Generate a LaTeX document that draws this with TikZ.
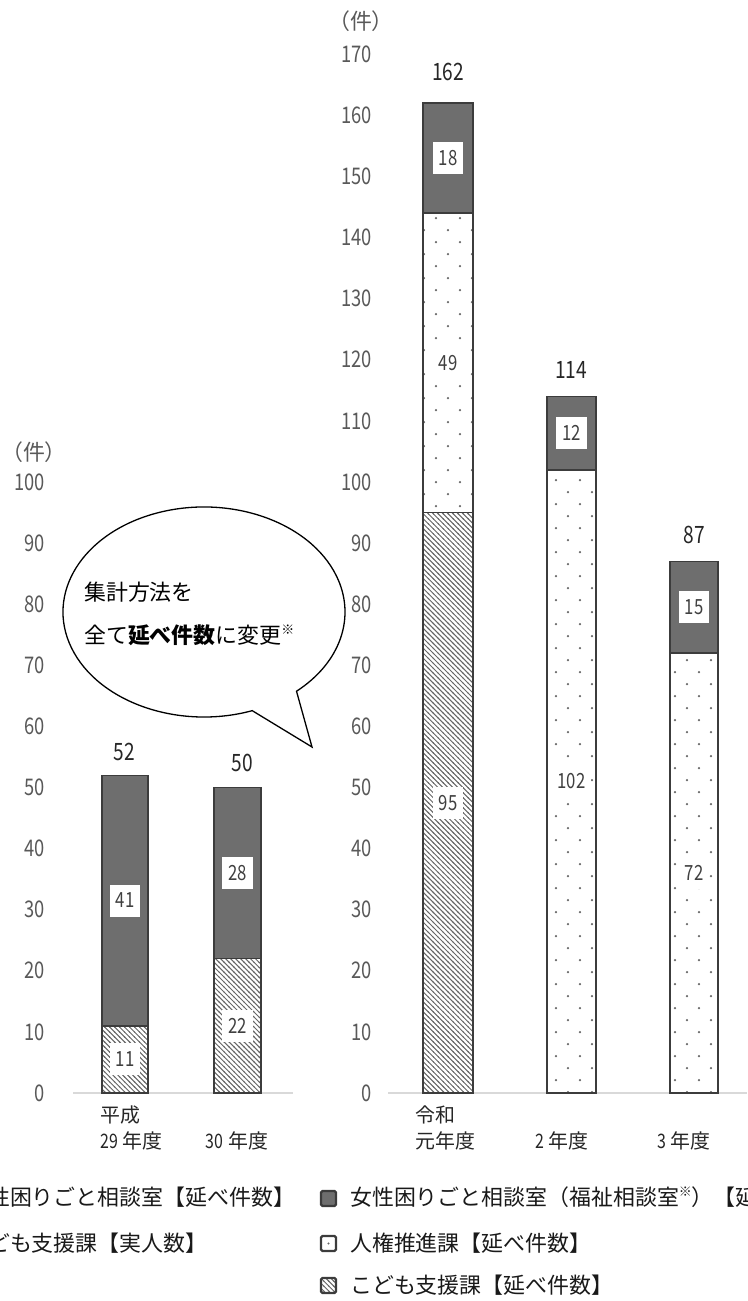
\documentclass[tikz,border=0pt]{standalone}
\usepackage{fontspec}
\setmainfont{Noto Sans CJK JP}
\newfontfamily\numfont[FakeStretch=0.8]{Noto Sans CJK JP}
\usetikzlibrary{patterns}
\definecolor{darkseg}{RGB}{110,110,110}
\definecolor{axisgray}{RGB}{89,89,89}
\definecolor{edgegray}{RGB}{60,60,60}
\definecolor{linegray}{RGB}{217,217,217}

\pgfdeclarepatternformonly{hatchfill}{\pgfqpoint{-1pt}{-1pt}}{\pgfqpoint{6pt}{6pt}}{\pgfqpoint{5pt}{5pt}}{%
  \pgfsetlinewidth{1pt}
  \pgfpathmoveto{\pgfqpoint{-0.5pt}{5.5pt}}
  \pgfpathlineto{\pgfqpoint{5.5pt}{-0.5pt}}
  \pgfusepath{stroke}}
\pgfdeclarepatternformonly{dotfill}{\pgfqpoint{0pt}{0pt}}{\pgfqpoint{24pt}{24pt}}{\pgfqpoint{24pt}{24pt}}{%
  \pgfpathcircle{\pgfqpoint{6pt}{6pt}}{1.25pt}
  \pgfpathcircle{\pgfqpoint{18pt}{18pt}}{1.25pt}
  \pgfusepath{fill}}

\begin{document}
\begin{tikzpicture}[x=1bp,y=1bp,
    axnum/.style={anchor=east,inner sep=0pt,text=axisgray,font=\numfont\fontsize{23}{23}\selectfont},
    total/.style={inner sep=0pt,text=black!85,font=\numfont\fontsize{24}{24}\selectfont},
    seglabel/.style={fill=white,inner xsep=6bp,inner ysep=0pt,minimum height=32bp,text=black!75,font=\numfont\fontsize{21}{21}\selectfont},
    catlabel/.style={inner sep=0pt,text=black!85,font=\fontsize{20}{20}\selectfont},
    legtext/.style={anchor=west,inner sep=0pt,text=black!90,font=\fontsize{22}{22}\selectfont},
    legmark/.style={line width=2.2bp,rounded corners=1.5bp},
    unitlabel/.style={inner sep=0pt,text=axisgray,font=\fontsize{22}{22}\selectfont},
    axisline/.style={draw=linegray,line width=2bp},
    darkbar/.style={draw=edgegray,line width=1.5bp,fill=darkseg},
    dotbar/.style={draw=edgegray,line width=1.5bp,pattern=dotfill,pattern color=black!60},
    hatchbar/.style={draw=edgegray,line width=1.5bp,pattern=hatchfill,pattern color=black!60}]
  \useasboundingbox (0,-208) rectangle (747,1093);
  \clip (0,-208) rectangle (747,1093);

  % axes
  \foreach \v in {0,10,...,100}
    \node[axnum] (la\v) at (45,{\v*6.11}) {\v};
  \foreach \v in {0,10,...,170}
    \node[axnum] (ra\v) at (372,{\v*6.11}) {\v};
  \node[unitlabel] (lunit) at (34,641) {（件）};
  \node[unitlabel] (runit) at (361,1072) {（件）};
  \draw[axisline] (73,0) -- (293,0);
  \draw[axisline] (388,0) -- (747,0);

  % bars
  \begin{scope}[y=6.11bp]
    \draw[hatchbar] (102,0) rectangle (148,11);
    \draw[darkbar] (102,11) rectangle (148,52);
    \draw[hatchbar] (214,0) rectangle (261,22);
    \draw[darkbar] (214,22) rectangle (261,50);
    \draw[hatchbar] (423,0) rectangle (473,95);
    \draw[dotbar] (423,95) rectangle (473,144);
    \draw[darkbar] (423,144) rectangle (473,162);
    \draw[dotbar] (547,0) rectangle (596,102);
    \draw[darkbar] (547,102) rectangle (596,114);
    \draw[dotbar] (670,0) rectangle (718,72);
    \draw[darkbar] (670,72) rectangle (718,87);
    \node[seglabel] (h29a) at (125,5.5) {11};
    \node[seglabel] (h29b) at (125,31.5) {41};
    \node[seglabel] (h30a) at (237.5,11) {22};
    \node[seglabel] (h30b) at (237.5,36) {28};
    \node[seglabel] (r1a) at (448,47.5) {95};
    \node[seglabel] (r1b) at (448,119.5) {49};
    \node[seglabel] (r1c) at (448,153) {18};
    \node[seglabel] (r2a) at (571.5,51) {102};
    \node[seglabel] (r2b) at (571.5,108) {12};
    \node[seglabel] (r3a) at (694,36) {72};
    \node[seglabel] (r3b) at (694,79.5) {15};
  \end{scope}
  \node[total] (t29) at (124,341) {52};
  \node[total] (t30) at (242,330) {50};
  \node[total] (tr1) at (448,1021) {162};
  \node[total] (tr2) at (571,723) {114};
  \node[total] (tr3) at (694,558) {87};

  % categories
  \node[catlabel,anchor=west] (c29a) at (100,-22) {平成};
  \node[catlabel,anchor=west] (c29b) at (100,-48) {{\numfont 29} 年度};
  \node[catlabel] (c30) at (237,-48) {{\numfont 30} 年度};
  \node[catlabel,anchor=west] (cr1a) at (415,-22) {令和};
  \node[catlabel,anchor=west] (cr1b) at (415,-48) {元年度};
  \node[catlabel] (cr2) at (562,-48) {{\numfont 2} 年度};
  \node[catlabel] (cr3) at (684,-48) {{\numfont 3} 年度};

  % speech bubble
  \coordinate (tip) at (312,346);
  \draw[line width=1.3bp,fill=white] ([shift={(204,481)}]-49:141 and 105) -- (tip)
    -- ([shift={(204,481)}]-70:141 and 105)
    arc[start angle=-70,end angle=-409,x radius=141,y radius=105] -- cycle;
  \node[anchor=west,inner sep=0pt,font=\fontsize{22}{22}\selectfont] (note1) at (84,501) {集計方法を};
  \node[anchor=west,inner sep=0pt,font=\fontsize{22}{22}\selectfont] (note2) at (84,458)
    {全て{\bfseries 延べ件数}に変更\raisebox{0.7ex}{\fontsize{13}{13}\selectfont ※}};

  % legend
  \node[legtext] (leg1) at (-34,-104) {女性困りごと相談室【延べ件数】};
  \node[legtext] (leg2) at (-34,-150) {こども支援課【実人数】};
  \draw[darkbar,legmark] (321,-113) rectangle (336,-98);
  \draw[edgegray,legmark] (321,-158) rectangle (336,-143);
  \fill[black!60] (328.5,-150.5) circle (1.2);
  \draw[hatchbar,legmark] (321,-200) rectangle (336,-185);
  \node[legtext] (leg3) at (350,-104) {女性困りごと相談室（福祉相談室\raisebox{0.7ex}{\fontsize{13}{13}\selectfont ※}）【延べ件数】};
  \node[legtext] (leg4) at (350,-150) {人権推進課【延べ件数】};
  \node[legtext] (leg5) at (350,-192) {こども支援課【延べ件数】};
\end{tikzpicture}
\end{document}
